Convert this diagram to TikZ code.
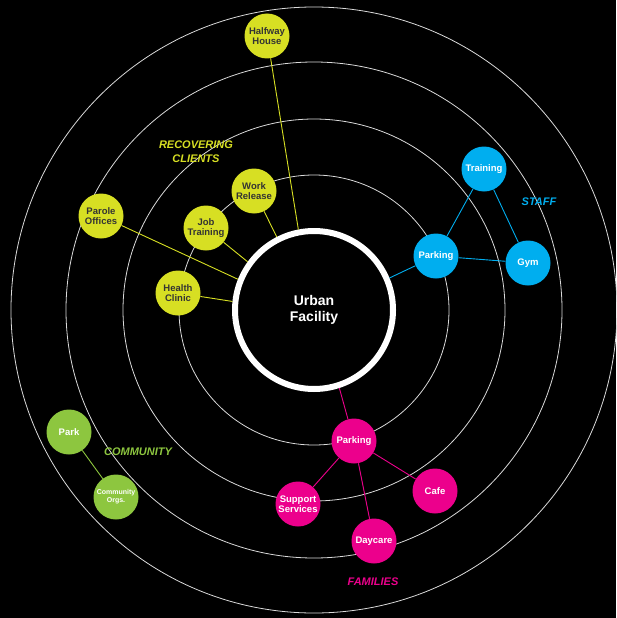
\documentclass[tikz,border=0pt]{standalone}
\usepackage{fontspec}
\setmainfont{Liberation Sans}
\definecolor{clientyellow}{HTML}{D7DF23}
\definecolor{staffblue}{HTML}{00AEEF}
\definecolor{familypink}{HTML}{EC008C}
\definecolor{communitygreen}{HTML}{8DC63F}
\definecolor{ringgray}{HTML}{DADADA}

\begin{document}
\begin{tikzpicture}[x=1pt,y=-1pt,
  place/.style={circle,inner sep=0pt,minimum size=45pt,align=center,font=\fontsize{9.5}{10.5}\selectfont\bfseries},
  client/.style={place,fill=clientyellow,text=black!80},
  staff/.style={place,fill=staffblue,text=white},
  family/.style={place,fill=familypink,text=white},
  community/.style={place,fill=communitygreen,text=white},
  group/.style={align=center,font=\fontsize{11}{14}\selectfont\bfseries\itshape},
  ring/.style={draw=ringgray,line width=0.8pt},
  link/.style={line width=0.9pt}]
\fill[black] (0,0) rectangle (616,618);
\useasboundingbox (0,0) rectangle (616,618);
% rings
\foreach \r in {135,191,248,303}
  \draw[ring] (314,310) circle[radius=\r];
% hub
\node[circle,draw=white,line width=6pt,fill=black,minimum size=158pt,text=white,
  align=center,font=\fontsize{14}{16}\selectfont\bfseries] (uf) at (314,310) {Urban\\Facility};
% recovering clients
\node[client] (hh) at (267,36) {Halfway\\House};
\node[client] (wr) at (254,191) {Work\\Release};
\node[client] (jt) at (206,228) {Job\\Training};
\node[client] (po) at (101,216) {Parole\\Offices};
\node[client] (hc) at (178,293) {Health\\Clinic};
\node[group,text=clientyellow] (rclab) at (196,152) {RECOVERING\\CLIENTS};
% staff
\node[staff] (tr) at (484,169) {Training};
\node[staff] (sp) at (436,256) {Parking};
\node[staff] (gym) at (528,263) {Gym};
\node[group,text=staffblue] (stlab) at (539,202) {STAFF};
% families
\node[family] (fp) at (354,441) {Parking};
\node[family] (ss) at (298,504) {Support\\Services};
\node[family] (cafe) at (435,491) {Cafe};
\node[family] (dc) at (374,541) {Daycare};
\node[group,text=familypink] (falab) at (373,582) {FAMILIES};
% community
\node[community] (park) at (69,432) {Park};
\node[community,font=\fontsize{7}{8}\selectfont\bfseries] (co) at (116,497) {Community\\Orgs.};
\node[group,text=communitygreen] (colab) at (138,452) {COMMUNITY};
% connectors
\draw[link,clientyellow] (hh) -- (uf.101);
\draw[link,clientyellow] (wr) -- (uf.117);
\draw[link,clientyellow] (jt) -- (uf.144);
\draw[link,clientyellow] (po) -- (uf.158);
\draw[link,clientyellow] (hc) -- (uf.174);
\draw[link,staffblue] (sp) -- (uf.23);
\draw[link,staffblue] (sp) -- (tr) -- (gym) -- (sp);
\draw[link,familypink] (fp) -- (uf.-72);
\draw[link,familypink] (fp) -- (ss);
\draw[link,familypink] (fp) -- (cafe);
\draw[link,familypink] (fp) -- (dc);
\draw[link,communitygreen] (park) -- (co);
\end{tikzpicture}
\end{document}
